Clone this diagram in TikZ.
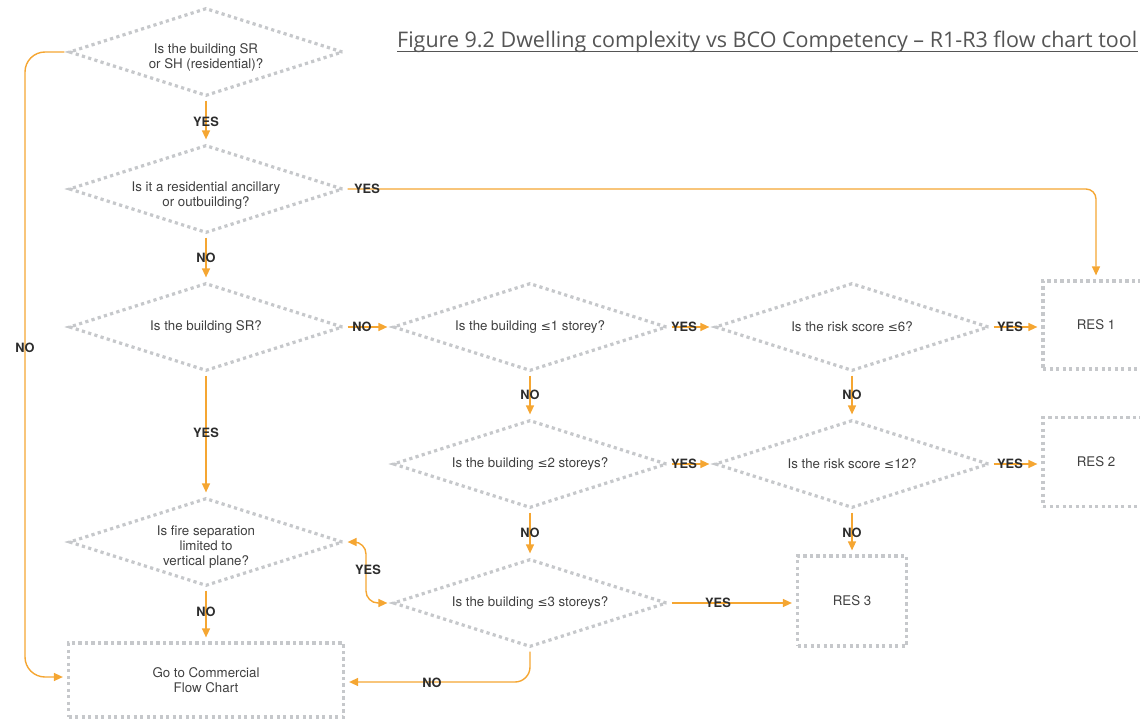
\documentclass[tikz,border=0pt]{standalone}
\usepackage{fontspec}
\setmainfont{TeX Gyre Heros}
\newfontfamily\titlefont{Open Sans}
\newfontfamily\dejavu{DejaVu Sans}
\usetikzlibrary{shapes.geometric,arrows.meta,calc}
\definecolor{flow}{RGB}{245,166,50}
\definecolor{frame}{RGB}{198,200,203}
\definecolor{qtxt}{RGB}{64,64,64}
\definecolor{lbl}{RGB}{45,45,45}
\definecolor{ttl}{RGB}{85,85,85}
\newcommand\lesym{{\dejavu\fontsize{12}{14}\selectfont ≤}}

\begin{document}
\begin{tikzpicture}[x=1pt,y=-1pt,
  frm/.style={draw=frame,line width=3.2pt,dash pattern=on 3.2pt off 3.3pt},
  dia/.style={frm,shape=diamond,minimum width=274pt,minimum height=88pt,inner sep=0pt},
  box/.style={frm,shape=rectangle,inner sep=0pt,text=qtxt,font=\fontsize{13.3}{15}\selectfont,align=center},
  qtext/.style={text=qtxt,font=\fontsize{13.3}{15}\selectfont,align=center,inner sep=0pt},
  ans/.style={text=lbl,font=\fontsize{12.8}{14}\selectfont\bfseries,inner sep=0pt},
  tip/.tip={Triangle[length=9pt,width=8pt]},
  conn/.style={draw=flow,line width=1.4pt,-tip,shorten <=3pt,shorten >=4pt},
  ]
\useasboundingbox (0,0) rectangle (1140,719);

% title
\node[anchor=base west,inner sep=0pt,text=ttl,font=\titlefont\fontsize{21.5}{24}\selectfont]
  (title) at (397,48) {Figure 9.2 Dwelling complexity vs BCO Competency – R1-R3 flow chart tool};
\draw[ttl,line width=1pt] ([yshift=-4pt]title.base west) -- ([yshift=-4pt]title.base east);

% decision diamonds
\node[dia] (d1) at (206,52) {};
\node[dia] (d2) at (206,189) {};
\node[dia] (d3) at (206,327) {};
\node[dia] (d4) at (530,327) {};
\node[dia] (d5) at (852,327) {};
\node[dia] (d6) at (530,464) {};
\node[dia] (d7) at (852,464) {};
\node[dia] (d8) at (206,542) {};
\node[dia] (d9) at (530,603) {};

\node[qtext] (t1) at ([yshift=-5pt]d1.center) {Is the building SR\\or SH (residential)?};
\node[qtext] (t2) at ([yshift=-7pt]d2.center) {Is it a residential ancillary\\or outbuilding?};
\node[qtext] (t3) at (d3.center) {Is the building SR?};
\node[qtext] (t4) at (d4.center) {Is the building \lesym1 storey?};
\node[qtext] (t5) at (d5.center) {Is the risk score \lesym6?};
\node[qtext] (t6) at (d6.center) {Is the building \lesym2 storeys?};
\node[qtext] (t7) at (d7.center) {Is the risk score \lesym12?};
\node[qtext] (t8) at ([yshift=-5pt]d8.center) {Is fire separation\\limited to\\vertical plane?};
\node[qtext] (t9) at (d9.center) {Is the building \lesym3 storeys?};

% outcome boxes
\node[box,minimum width=106pt,minimum height=88pt] (r1) at (1096,325) {RES 1};
\node[box,minimum width=106pt,minimum height=89pt] (r2) at (1096,462) {RES 2};
\node[box,minimum width=109pt,minimum height=90pt] (r3) at (852,601) {RES 3};
\node[box,minimum width=275pt,minimum height=74pt] (go) at (206,680) {Go to Commercial\\Flow Chart};

% connectors
\draw[conn] (d1.south) -- (d2.north);
\draw[conn,rounded corners=10pt] (d2.east) -| (r1.north);
\draw[conn] (d2.south) -- (d3.north);
\draw[conn] (d3.east) -- (d4.west);
\draw[conn] (d4.east) -- (d5.west);
\draw[conn] (d5.east) -- (d5.east -| r1.west);
\draw[conn] (d4.south) -- (d6.north);
\draw[conn] (d5.south) -- (d7.north);
\draw[conn] (d6.east) -- (d7.west);
\draw[conn] (d7.east) -- (d7.east -| r2.west);
\draw[conn] (d6.south) -- (d9.north);
\draw[conn] (d7.south) -- (r3.north);
\draw[conn] (d3.south) -- (d8.north);
\draw[conn] (d8.south) -- (go.north);
\draw[conn] (d9.east) -- (d9.east -| r3.west);
\draw[conn,rounded corners=15pt] (d9.south) |- ([yshift=-2pt]go.east);
\coordinate (lane) at (25,360);
\draw[conn,rounded corners=20pt] (d1.west) -| (lane) |- ([yshift=3pt]go.west);
\coordinate (bend) at (366,570);
\draw[conn,tip-tip,rounded corners=12pt] (d8.east) -| (bend) |- (d9.west);

% answers
\node[ans] (a1) at (206,122) {YES};
\node[ans] (a2) at (367,189) {YES};
\node[ans] (a3) at (206,258) {NO};
\node[ans] (a4) at (362,327) {NO};
\node[ans] (a5) at (684,327) {YES};
\node[ans] (a6) at (1010,327) {YES};
\node[ans] (a7) at (530,395) {NO};
\node[ans] (a8) at (852,395) {NO};
\node[ans] (a9) at (684,464) {YES};
\node[ans] (a10) at (1010,464) {YES};
\node[ans] (a11) at (530,533) {NO};
\node[ans] (a12) at (852,533) {NO};
\node[ans] (a13) at (206,433) {YES};
\node[ans] (a14) at (206,612) {NO};
\node[ans] (a15) at (718,603) {YES};
\node[ans] (a16) at (432,683) {NO};
\node[ans] (a17) at (25,348) {NO};
\node[ans] (a18) at (368,570) {YES};
\end{tikzpicture}
\end{document}
